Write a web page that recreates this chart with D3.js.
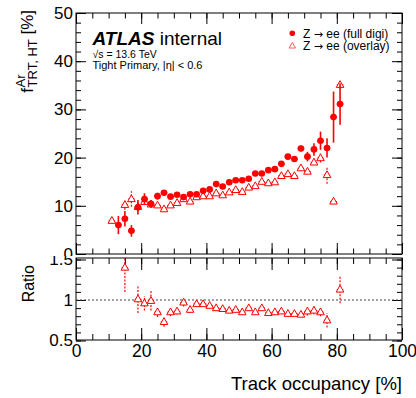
<!DOCTYPE html>
<html><head><meta charset="utf-8">
<script src="https://cdn.jsdelivr.net/npm/d3@7"></script>
<style>
body{margin:0;background:#fff}
svg{display:block}
text{font-family:"Liberation Sans",Arial,Helvetica,sans-serif;fill:#000}
</style>
</head><body>
<svg id="c" width="416" height="398"></svg>
<script>
// ---- data ----
const occupancy = [11,13,15,17,19,21,23,25,27,29,31,33,35,37,39,41,43,45,47,49,51,53,55,57,59,61,63,65,67,69,71,73,75,77,79,81];
const fullDigi = [null,6.0,7.3,4.8,9.7,11.4,10.4,12.0,12.7,11.9,12.3,11.8,12.4,12.4,13.1,13.4,14.5,14.0,14.9,15.3,15.3,15.6,16.7,16.7,17.4,17.6,18.7,20.2,19.7,21.9,20.2,21.7,23.5,22.0,28.4,31.1];
const fullDigiErr = [null,1.9,1.6,1.2,1.5,1.2,0.8,0.7,0.6,0.5,0.5,0.4,0.4,0.4,0.4,0.4,0.4,0.4,0.4,0.4,0.4,0.4,0.4,0.4,0.4,0.4,0.4,0.5,0.5,0.6,1.0,1.3,1.9,2.0,5.3,4.3];
const overlay = [6.9,null,10.2,11.4,9.8,10.8,10.3,10.1,9.3,10.1,10.6,11.4,10.9,11.8,12.0,12.0,12.6,12.2,12.8,13.3,12.9,13.8,14.1,15.0,14.7,14.9,16.2,16.6,16.2,17.8,17.1,19.0,19.9,16.4,10.9,35.1];
const overlayErr = [0.3,null,1.0,1.6,0.8,0.6,0.6,0.4,0.4,0.3,0.3,0.3,0.3,0.3,0.3,0.3,0.3,0.3,0.3,0.3,0.3,0.3,0.3,0.3,0.3,0.3,0.3,0.3,0.3,0.3,0.4,0.5,0.9,1.8,0.3,0.8];
const ratio = [null,null,1.40,null,1.01,0.96,0.99,0.85,0.73,0.85,0.86,0.97,0.88,0.95,0.95,0.93,0.90,0.89,0.87,0.88,0.85,0.90,0.85,0.90,0.84,0.85,0.86,0.83,0.83,0.82,0.86,0.87,0.85,0.75,null,1.13];
const ratioErr = [null,null,0.3,null,0.17,0.09,0.12,0.06,0.06,0.05,0.04,0.05,0.04,0.03,0.03,0.03,0.03,0.03,0.03,0.03,0.03,0.03,0.03,0.03,0.03,0.03,0.03,0.03,0.03,0.03,0.05,0.05,0.05,0.09,null,0.17];
const xTicks = [0,20,40,60,80,100];
const yTicks = [0,10,20,30,40,50];
const ratioTicks = [0.5,1,1.5];
const legendLabels = [["Z ","\u2192"," ee (full digi)"],["Z ","\u2192"," ee (overlay)"]];

// ---- layout ----
const L=76,R=402,T1=13,B1=254,T2=258,B2=340,SPLIT=256;
const RED="#ff0000";
const FONT='"Liberation Sans",Arial,Helvetica,sans-serif';
const svg=d3.select("#c");
const x=d3.scaleLinear([0,100],[L,R]);
const y=d3.scaleLinear([0,50],[B1,T1]);
const yr=d3.scaleLinear([0.5,1.5],[340.5,259.5]);

const defs=svg.append("defs");
defs.append("clipPath").attr("id","cp1").append("rect").attr("x",L).attr("y",T1).attr("width",R-L).attr("height",B1-T1);
defs.append("clipPath").attr("id","cp2").append("rect").attr("x",L).attr("y",T2).attr("width",R-L).attr("height",B2-T2);
// pad clips (upper pad ends at SPLIT, lower pad starts there)
defs.append("clipPath").attr("id","padTop").append("rect").attr("x",0).attr("y",0).attr("width",416).attr("height",SPLIT);
defs.append("clipPath").attr("id","padBot").append("rect").attr("x",0).attr("y",SPLIT).attr("width",416).attr("height",398-SPLIT);

function styleAxis(g,fs){
  g.select(".domain").remove();
  g.selectAll("line").attr("stroke","#000").attr("stroke-width",1);
  g.selectAll("text").attr("font-size",fs).attr("font-family",FONT).attr("fill","#000");
}
function addAxes(pad,ys,top,bot,yMajor,yMinor,yLen,xLen,showX){
  const xmin=d3.range(0,101,5);
  pad.append("g").attr("transform",`translate(0,${bot})`).call(d3.axisBottom(x).tickValues(xmin).tickSize(-xLen/2).tickFormat("")).call(g=>styleAxis(g,17));
  pad.append("g").attr("transform",`translate(0,${bot})`).call(d3.axisBottom(x).tickValues(xTicks).tickSize(-xLen).tickPadding(5).tickFormat(showX?d3.format("d"):"")).call(g=>styleAxis(g,17.5));
  pad.append("g").attr("transform",`translate(0,${top})`).call(d3.axisTop(x).tickValues(xmin).tickSize(-xLen/2).tickFormat("")).call(g=>styleAxis(g,17));
  pad.append("g").attr("transform",`translate(0,${top})`).call(d3.axisTop(x).tickValues(xTicks).tickSize(-xLen).tickFormat("")).call(g=>styleAxis(g,17));
  pad.append("g").attr("transform",`translate(${L},0)`).call(d3.axisLeft(ys).tickValues(yMinor).tickSize(-yLen/2).tickFormat("")).call(g=>styleAxis(g,17));
  pad.append("g").attr("transform",`translate(${L},0)`).call(d3.axisLeft(ys).tickValues(yMajor).tickSize(-yLen).tickPadding(3).tickFormat(d=>String(d))).call(g=>styleAxis(g,17));
  pad.append("g").attr("transform",`translate(${R},0)`).call(d3.axisRight(ys).tickValues(yMinor).tickSize(-yLen/2).tickFormat("")).call(g=>styleAxis(g,17));
  pad.append("g").attr("transform",`translate(${R},0)`).call(d3.axisRight(ys).tickValues(yMajor).tickSize(-yLen).tickFormat("")).call(g=>styleAxis(g,17));
  pad.append("rect").attr("x",L).attr("y",top).attr("width",R-L).attr("height",bot-top).attr("fill","none").attr("stroke","#000").attr("stroke-width",1);
}

const padTop=svg.append("g").attr("clip-path","url(#padTop)");
const padBot=svg.append("g").attr("clip-path","url(#padBot)");
addAxes(padBot,yr,T2,B2,ratioTicks,d3.range(5,16).map(d=>d/10),10,12,true);
addAxes(padTop,y,T1,B1,yTicks,d3.range(0,51,2),10,11,false);

// unity line
padBot.append("line").attr("x1",L).attr("x2",R).attr("y1",yr(1)).attr("y2",yr(1))
  .attr("stroke","#444").attr("stroke-width",1).attr("stroke-dasharray","2,2");

const tri="M0,-4.2L3.8,2.6L-3.8,2.6Z";
const triSmall="M0,-3.4L3.2,2.2L-3.2,2.2Z";

function drawOpen(g,ys,vals,errs){
  occupancy.forEach((o,i)=>{
    const v=vals[i]; if(v==null) return;
    const e=errs[i]||0, cx=x(o), cy=ys(v);
    g.append("line").attr("x1",cx).attr("x2",cx).attr("y1",ys(v-e)).attr("y2",ys(v+e))
      .attr("stroke",RED).attr("stroke-width",1.2).attr("stroke-dasharray","2,1.5");
    g.append("line").attr("x1",x(o-1)).attr("x2",x(o+1)).attr("y1",cy).attr("y2",cy)
      .attr("stroke",RED).attr("stroke-width",1);
    g.append("path").attr("d",tri).attr("transform",`translate(${cx},${cy})`)
      .attr("fill","#fff").attr("stroke",RED).attr("stroke-width",1);
  });
}
function drawFilled(g,ys,vals,errs){
  occupancy.forEach((o,i)=>{
    const v=vals[i]; if(v==null) return;
    const e=errs[i]||0, cx=x(o), cy=ys(v);
    g.append("line").attr("x1",cx).attr("x2",cx).attr("y1",ys(v-e)).attr("y2",ys(v+e))
      .attr("stroke",RED).attr("stroke-width",1.6);
    g.append("line").attr("x1",x(o-1)).attr("x2",x(o+1)).attr("y1",cy).attr("y2",cy)
      .attr("stroke",RED).attr("stroke-width",1.6);
    g.append("circle").attr("cx",cx).attr("cy",cy).attr("r",3.3).attr("fill",RED);
  });
}
const g1=svg.append("g").attr("clip-path","url(#cp1)");
drawOpen(g1,y,overlay,overlayErr);
drawFilled(g1,y,fullDigi,fullDigiErr);
const g2=svg.append("g").attr("clip-path","url(#cp2)");
drawOpen(g2,yr,ratio,ratioErr);

// ATLAS label
const at=svg.append("text").attr("x",92.5).attr("y",45).attr("font-size",19);
at.append("tspan").attr("font-weight","bold").attr("font-style","italic").text("ATLAS");
at.append("tspan").attr("font-weight","normal").text(" internal");
svg.append("text").attr("x",92.5).attr("y",57.5).attr("font-size",10.5).text("\u221As = 13.6 TeV");
svg.append("text").attr("x",92.5).attr("y",69).attr("font-size",11).text("Tight Primary, |\u03B7| < 0.6");

// legend
svg.append("circle").attr("cx",292.3).attr("cy",33.3).attr("r",2.8).attr("fill",RED);
svg.append("path").attr("d",triSmall).attr("transform","translate(292.3,45.8)").attr("fill","#fff").attr("stroke","#ff5a5a").attr("stroke-width",1);
legendLabels.forEach((parts,i)=>{
  const t=svg.append("text").attr("x",303).attr("y",37.5+12.5*i).attr("font-size",12);
  t.append("tspan").text(parts[0]);
  t.append("tspan").attr("font-family","DejaVu Sans").attr("font-size",11).text(parts[1]);
  t.append("tspan").text(parts[2]);
});

// x title
svg.append("text").attr("x",R).attr("y",390).attr("text-anchor","end").attr("font-size",18.5).text("Track occupancy [%]");

// ratio y title
svg.append("text").attr("transform",`translate(34,265) rotate(-90)`).attr("text-anchor","end").attr("font-size",16).text("Ratio");

// main y title: f^{Ar}_{TRT, HT} [%]
{
  const bx=33, endY=10;
  const g=svg.append("g").attr("transform",`translate(${bx},0) rotate(-90)`);
  const t3=g.append("text").attr("font-size",17).attr("text-anchor","end").attr("x",-endY).attr("y",0).text("[%]");
  const w3=t3.node().getComputedTextLength();
  const gap=4.7;
  const sub=g.append("text").attr("font-size",13).attr("text-anchor","end").attr("x",-endY-w3-gap).attr("y",4).text("TRT, HT");
  const ws=sub.node().getComputedTextLength();
  const subStart=-endY-w3-gap-ws;
  g.append("text").attr("font-size",13).attr("text-anchor","start").attr("x",subStart).attr("y",-8).text("Ar");
  g.append("text").attr("font-size",17).attr("text-anchor","end").attr("x",subStart-0.5).attr("y",0).text("f");
}
</script>
</body></html>
